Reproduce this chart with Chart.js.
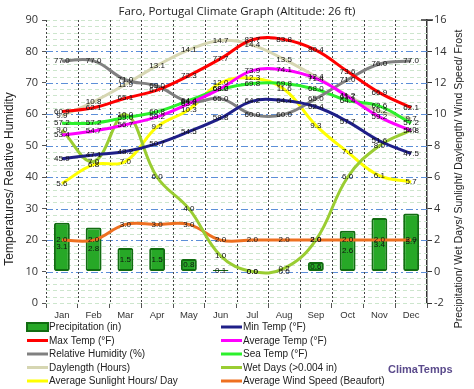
<!DOCTYPE html>
<html>
<head>
<meta charset="utf-8">
<script src="https://cdn.jsdelivr.net/npm/chart.js@4.4.0/dist/chart.umd.min.js"></script>
<style>
    html, body { margin: 0; padding: 0; background: #fff; }
    #wrap { width: 474px; height: 389px; }
</style>
</head>
<body>
<div id="wrap"><canvas id="climateChart" width="474" height="389"></canvas></div>
<script>
const months = ['Jan', 'Feb', 'Mar', 'Apr', 'May', 'Jun', 'Jul', 'Aug', 'Sep', 'Oct', 'Nov', 'Dec'];

// left axis (°F / %)
const minTemp = [45.9, 47.1, 48.2, 50.7, 54.5, 58.8, 64.2, 64.4, 62.4, 57.7, 51.6, 47.5];
const maxTemp = [60.9, 62.1, 65.1, 67.7, 72.3, 77.7, 83.7, 83.8, 80.4, 73.6, 66.9, 62.1];
const avgTemp = [53.4, 54.7, 56.7, 59.2, 63.4, 68.2, 73.9, 74.1, 71.4, 65.7, 59.2, 54.8];
const seaTemp = [57.2, 57.2, 59.0, 60.8, 64.4, 68.0, 69.8, 69.8, 68.0, 64.4, 62.6, 57.2];
const humidity = [77.0, 77.0, 71.0, 69.0, 64.0, 65.0, 60.0, 60.0, 65.0, 71.0, 76.0, 77.0];

// right axis
const precipitation = [3.1, 2.8, 1.5, 1.5, 0.8, 0.1, 0.0, 0.0, 0.6, 2.6, 3.4, 3.7];
const daylength = [9.9, 10.8, 11.9, 13.1, 14.1, 14.7, 14.4, 13.5, 12.4, 11.2, 10.2, 9.7];
const wetDays = [9.0, 7.0, 10.0, 6.0, 4.0, 1.0, 0.0, 0.2, 2.0, 6.0, 8.0, 9.0];
const sunlight = [5.6, 6.8, 7.0, 9.2, 10.3, 12.0, 12.3, 11.6, 9.3, 7.6, 6.1, 5.7];
const windSpeed = [2.0, 2.0, 3.0, 3.0, 3.0, 2.0, 2.0, 2.0, 2.0, 2.0, 2.0, 2.0];

const leftRange = [0, 90];
const rightRange = [-2, 16];

const textFont = '"Liberation Sans", Arial, sans-serif';
const tickFont = '"Open Sans", sans-serif';

const lineSeries = (label, data, color, axis) => ({
    type: 'line',
    label: label,
    data: data,
    yAxisID: axis,
    borderColor: color,
    backgroundColor: color,
    borderWidth: 3,
    tension: 0.4,
    pointRadius: 0,
    fill: false,
    order: 1
});

const datasets = [
    {
        type: 'bar',
        label: 'Precipitation (in)',
        data: precipitation,
        yAxisID: 'y1',
        backgroundColor: '#27a827',
        borderColor: '#116c11',
        borderWidth: 2,
        borderRadius: 2,
        borderSkipped: false,
        barPercentage: 0.5,
        categoryPercentage: 1,
        order: 5
    },
    lineSeries('Min Temp (°F)', minTemp, '#1f1f88', 'y'),
    lineSeries('Max Temp (°F)', maxTemp, '#ff0000', 'y'),
    lineSeries('Average Temp (°F)', avgTemp, '#ff00ff', 'y'),
    lineSeries('Relative Humidity (%)', humidity, '#808080', 'y'),
    lineSeries('Sea Temp (°F)', seaTemp, '#2cf02c', 'y'),
    lineSeries('Daylength (Hours)', daylength, '#d6d6b2', 'y1'),
    lineSeries('Wet Days (>0.004 in)', wetDays, '#9acd32', 'y1'),
    lineSeries('Average Sunlight Hours/ Day', sunlight, '#ffff00', 'y1'),
    lineSeries('Average Wind Speed (Beaufort)', windSpeed, '#ee7020', 'y1')
];

function strokeLine(ctx, x1, y1, x2, y2) {
    ctx.beginPath();
    ctx.moveTo(x1, y1);
    ctx.lineTo(x2, y2);
    ctx.stroke();
}

// background grid: faint minor lines, blue dash-dot majors, dotted month separators
const gridLines = {
    id: 'gridLines',
    beforeDatasetsDraw(chart) {
        const { ctx, chartArea: a, scales: { x, y } } = chart;
        ctx.save();
        ctx.lineWidth = 1;

        ctx.strokeStyle = '#cde6cd';
        ctx.setLineDash([4, 3]);
        for (let v = leftRange[0]; v <= leftRange[1]; v += 2) {
            if (v % 10 === 0 && v > leftRange[0] && v < leftRange[1]) continue;
            const py = Math.round(y.getPixelForValue(v)) + 0.5;
            strokeLine(ctx, a.left, py, a.right, py);
        }

        ctx.strokeStyle = '#5d8fd8';
        ctx.setLineDash([7, 3, 2, 3]);
        for (let v = leftRange[0] + 10; v < leftRange[1]; v += 10) {
            const py = Math.round(y.getPixelForValue(v)) + 0.5;
            strokeLine(ctx, a.left, py, a.right, py);
        }

        ctx.strokeStyle = '#444';
        ctx.setLineDash([2, 2]);
        const half = (x.getPixelForValue(1) - x.getPixelForValue(0)) / 2;
        for (let i = -1; i < months.length - 1; i++) {
            const px = Math.round(x.getPixelForValue(i) + half) + 0.5;
            strokeLine(ctx, px, a.top, px, a.bottom);
        }
        ctx.restore();
    }
};

// value text on every point and inside every bar
const valueLabels = {
    id: 'valueLabels',
    afterDatasetsDraw(chart) {
        const ctx = chart.ctx;
        ctx.save();
        ctx.font = '8px ' + textFont;
        ctx.fillStyle = '#111';
        ctx.textAlign = 'center';
        ctx.textBaseline = 'middle';
        chart.data.datasets.forEach((ds, i) => {
            chart.getDatasetMeta(i).data.forEach((el, j) => {
                const py = ds.type === 'bar' ? (el.y + el.base) / 2 : el.y;
                ctx.fillText(ds.data[j].toFixed(1), el.x, py);
            });
        });
        ctx.restore();
    }
};

// title, axis titles, two-column legend, logo
const decorations = {
    id: 'decorations',
    afterDraw(chart) {
        const { ctx, chartArea: a } = chart;
        ctx.save();

        ctx.fillStyle = '#222';
        ctx.font = '11.5px ' + tickFont;
        ctx.textAlign = 'center';
        ctx.textBaseline = 'middle';
        ctx.fillText('Faro, Portugal Climate Graph (Altitude: 26 ft)', 237, 12);

        ctx.font = '12px ' + textFont;
        ctx.save();
        ctx.translate(10, 179);
        ctx.rotate(-Math.PI / 2);
        ctx.fillText('Temperatures/ Relative Humidity', 0, 0);
        ctx.restore();

        ctx.font = '10.5px ' + textFont;
        ctx.save();
        ctx.translate(459, 179);
        ctx.rotate(-Math.PI / 2);
        ctx.fillText('Precipitation/ Wet Days/ Sunlight/ Daylength/ Wind Speed/ Frost', 0, 0);
        ctx.restore();

        // cap on top of the right axis
        ctx.strokeStyle = '#333';
        ctx.lineWidth = 1.5;
        strokeLine(ctx, a.right - 6, a.top, a.right + 6, a.top);

        // legend
        ctx.font = '10px ' + textFont;
        ctx.textAlign = 'left';
        const colX = [27, 221];
        chart.data.datasets.forEach((ds, i) => {
            const sx = colX[i % 2];
            const sy = 327 + Math.floor(i / 2) * 13.5;
            if (ds.type === 'bar') {
                ctx.fillStyle = ds.backgroundColor;
                ctx.strokeStyle = ds.borderColor;
                ctx.lineWidth = 2;
                ctx.fillRect(sx, sy - 4, 21, 8);
                ctx.strokeRect(sx, sy - 4, 21, 8);
            } else {
                ctx.strokeStyle = ds.borderColor;
                ctx.lineWidth = 3;
                strokeLine(ctx, sx, sy, sx + 21, sy);
            }
            ctx.fillStyle = '#222';
            ctx.fillText(ds.label, sx + 22, sy + 0.5);
        });

        ctx.font = 'bold 11px ' + textFont;
        ctx.fillStyle = '#5b4b8c';
        ctx.fillText('ClimaTemps', 388, 370);
        ctx.restore();
    }
};

const chartContext = document.getElementById('climateChart').getContext('2d');

new Chart(chartContext, {
    data: { labels: months, datasets: datasets },
    options: {
        responsive: false,
        animation: false,
        devicePixelRatio: 1,
        layout: { padding: { top: 20, bottom: 66, left: 0, right: 0 } },
        plugins: {
            legend: { display: false },
            title: { display: false },
            tooltip: { enabled: false }
        },
        scales: {
            x: {
                afterFit: (s) => { s.height = 20; },
                grid: { drawOnChartArea: false, tickLength: 5, color: '#555' },
                border: { display: false },
                ticks: { font: { family: textFont, size: 9.5 }, color: '#333', padding: 2 }
            },
            y: {
                position: 'left',
                min: leftRange[0],
                max: leftRange[1],
                afterFit: (s) => { s.width = 46; },
                grid: { drawOnChartArea: false, tickLength: 4, color: '#555' },
                border: { display: false },
                ticks: { stepSize: 10, font: { family: tickFont, size: 11 }, color: '#333', padding: 4 }
            },
            y1: {
                position: 'right',
                min: rightRange[0],
                max: rightRange[1],
                afterFit: (s) => { s.width = 47; },
                grid: { drawOnChartArea: false, tickLength: 5, color: '#333' },
                border: { display: true, color: '#333', width: 1.5 },
                ticks: { stepSize: 2, font: { family: tickFont, size: 11 }, color: '#333', padding: 2 }
            }
        }
    },
    plugins: [gridLines, valueLabels, decorations]
});
</script>
</body>
</html>
